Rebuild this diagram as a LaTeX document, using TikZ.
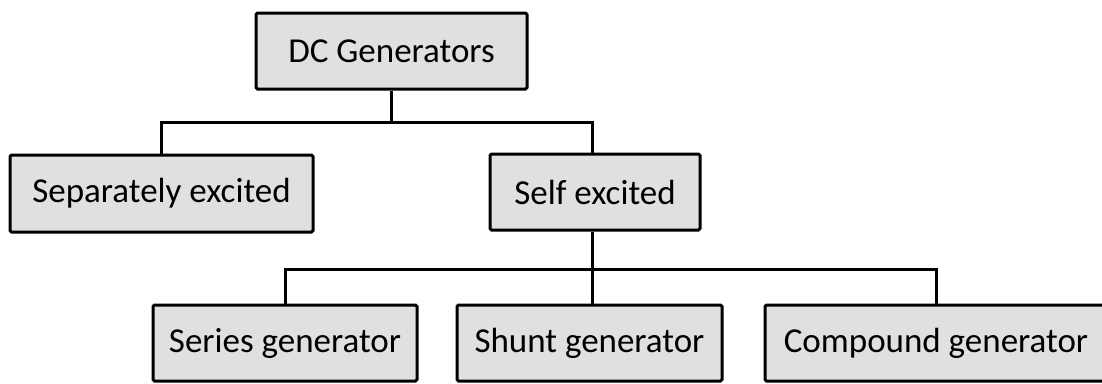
\documentclass[tikz,border=0pt]{standalone}
\usepackage{fontspec}
\setmainfont{Carlito}
\begin{document}
\begin{tikzpicture}[x=1pt,y=-1pt,
  box/.style={draw=black, line width=3pt, fill=gray!24, rounded corners=1.5pt, inner sep=0pt,
    font=\fontsize{35}{40}\selectfont},
  conn/.style={draw=black, line width=3pt}]
\useasboundingbox (0,0) rectangle (1102,383);
\clip (0,0) rectangle (1102,383);
\coordinate (busA) at (0,122);
\coordinate (busB) at (0,269);
\coordinate (mstem) at (592,0);
\node[box, minimum width=271pt, minimum height=76pt] (dc) at (391.5,51) {DC Generators};
\node[box, minimum width=303pt, minimum height=77pt] (sep) at (161.5,193.5) {Separately excited};
\node[box, minimum width=210pt, minimum height=76pt] (self) at (595,192) {Self excited};
\node[box, minimum width=264pt, minimum height=76pt] (series) at (285,343) {Series generator};
\node[box, minimum width=265pt, minimum height=76pt] (shunt) at (589.5,343) {Shunt generator};
\node[box, minimum width=342pt, minimum height=76pt] (comp) at (936,343) {Compound generator};
\draw[conn] (dc.south) -- (dc.south |- busA);
\draw[conn] (sep.north) |- (busA -| mstem) -- (mstem |- self.north);
\draw[conn] (mstem |- self.south) -- (mstem |- shunt.north);
\draw[conn] (series.north) |- (busB -| comp.north) -- (comp.north);
\end{tikzpicture}
\end{document}
